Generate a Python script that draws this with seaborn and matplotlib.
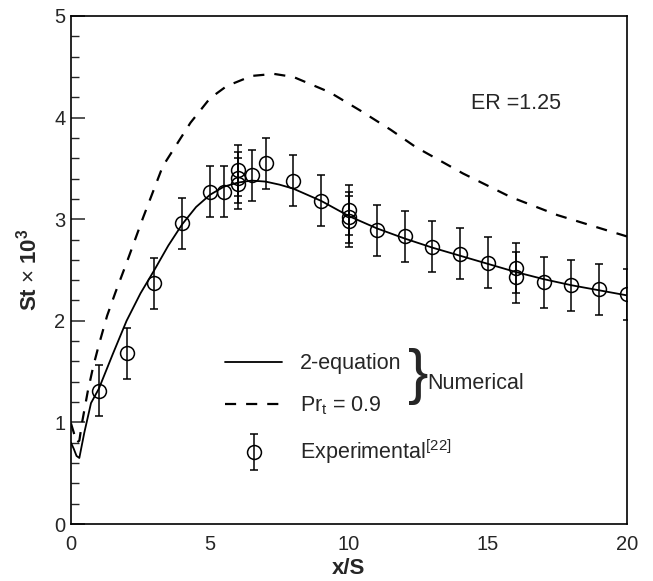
import matplotlib
matplotlib.use('Agg')
import matplotlib.pyplot as plt
import pandas as pd
import seaborn as sns
from matplotlib.lines import Line2D
from matplotlib.container import ErrorbarContainer
from matplotlib.legend_handler import HandlerErrorbar
from matplotlib.ticker import MultipleLocator

# numerical results, 2-equation model
x_2eq = [0, 0.1, 0.2, 0.3, 0.48, 0.72, 1.0, 1.5, 2.0, 2.5, 3.0, 3.5, 4.0, 4.5, 5.0, 5.5, 6.0,
         6.5, 7.0, 7.5, 8.0, 9.0, 10.0, 11.0, 12.0, 13.0, 14.0, 15.0, 16.0, 17.0, 18.0, 19.0, 20.0]
st_2eq = [0.80, 0.74, 0.67, 0.65, 0.90, 1.19, 1.33, 1.67, 2.00, 2.27, 2.50, 2.74, 2.95, 3.12, 3.24,
          3.32, 3.36, 3.38, 3.37, 3.34, 3.30, 3.18, 3.03, 2.91, 2.81, 2.72, 2.64, 2.56, 2.48, 2.41,
          2.35, 2.30, 2.25]

# numerical results, constant Pr_t = 0.9
x_prt = [0, 0.1, 0.2, 0.3, 0.4, 0.6, 0.8, 1.0, 1.3, 1.6, 2.0, 2.6, 3.3, 4.3, 5.0, 5.6, 6.5, 7.3,
         8.0, 9.3, 10.4, 11.5, 12.4, 14.1, 15.8, 17.5, 19.4, 20.0]
st_prt = [0.99, 0.90, 0.80, 0.82, 1.00, 1.30, 1.55, 1.76, 2.05, 2.28, 2.57, 3.02, 3.52, 3.95, 4.19,
          4.31, 4.41, 4.43, 4.40, 4.25, 4.07, 3.88, 3.71, 3.45, 3.22, 3.04, 2.88, 2.83]

# experimental data [22]
x_exp = [1, 2, 3, 4, 5, 5.5, 6, 6, 6, 6.5, 7, 8, 9, 10, 10, 10, 11, 12, 13, 14, 15, 16, 16, 17,
         18, 19, 20]
st_exp = [1.31, 1.68, 2.37, 2.96, 3.27, 3.27, 3.35, 3.41, 3.48, 3.43, 3.55, 3.38, 3.18, 2.98, 3.02,
          3.09, 2.89, 2.83, 2.73, 2.66, 2.57, 2.43, 2.52, 2.38, 2.35, 2.31, 2.26]
err_exp = [0.25] * len(x_exp)

sns.set_theme(style='white')
plt.rcParams['font.family'] = ['Liberation Sans', 'DejaVu Sans']
plt.rcParams['mathtext.fontset'] = 'custom'
plt.rcParams['mathtext.rm'] = 'Liberation Sans'
plt.rcParams['mathtext.it'] = 'Liberation Sans:italic'
plt.rcParams['mathtext.bf'] = 'Liberation Sans:bold'

fs = 15.5

fig = plt.figure(figsize=(6.53, 5.81), dpi=100)
ax = fig.add_axes([0.1087, 0.0981, 0.8515, 0.8744])

df_2eq = pd.DataFrame({'x': x_2eq, 'St': st_2eq})
df_prt = pd.DataFrame({'x': x_prt, 'St': st_prt})
sns.lineplot(data=df_2eq, x='x', y='St', ax=ax, color='black', lw=1.3, sort=False)
sns.lineplot(data=df_prt, x='x', y='St', ax=ax, color='black', lw=1.6, sort=False,
             linestyle=(0, (5, 4.5)))
eb = ax.errorbar(x_exp, st_exp, yerr=err_exp, fmt='o', ms=10, mfc='none', mec='black', mew=1.1,
                 ecolor='black', elinewidth=1.1, capsize=3, capthick=1.1)

ax.set_xlim(0, 20)
ax.set_ylim(0, 5)
ax.xaxis.set_major_locator(MultipleLocator(5))
ax.yaxis.set_major_locator(MultipleLocator(1))
ax.yaxis.set_minor_locator(MultipleLocator(0.2))
ax.tick_params(axis='y', which='major', direction='in', length=10, width=1.1, labelsize=14.5,
               pad=4, left=True, right=False)
ax.tick_params(axis='y', which='minor', direction='in', length=6, width=1.0, left=True)
ax.tick_params(axis='x', which='both', length=0, labelsize=14.5, pad=8)
for sp in ax.spines.values():
    sp.set_color('black')
    sp.set_linewidth(1.2)

ax.set_xlabel('x/S', fontsize=16, fontweight='bold', labelpad=3)
ax.set_ylabel(r'St $\times$ 10$^\mathbf{3}$', fontsize=16, fontweight='bold', labelpad=9)

handles = [Line2D([], [], color='black', lw=1.3),
           Line2D([], [], color='black', lw=1.6, linestyle=(0, (5, 4.5))),
           eb]
labels = ['2-equation', r'Pr$_\mathrm{t}$ = 0.9', r'Experimental$^{[22]}$']
ax.legend(handles, labels, loc='upper left', bbox_to_anchor=(0.277, 0.336), frameon=False,
          fontsize=fs, handlelength=2.65, handletextpad=0.85, labelspacing=0.95,
          borderaxespad=0, borderpad=0,
          handler_map={ErrorbarContainer: HandlerErrorbar(yerr_size=0.85)})

ax.text(0.624, 0.29, '}', transform=ax.transAxes, fontsize=44, ha='center', va='center',
        fontweight='light')
ax.text(0.641, 0.276, 'Numerical', transform=ax.transAxes, fontsize=fs, ha='left', va='center')
ax.text(0.72, 0.828, 'ER =1.25', transform=ax.transAxes, fontsize=fs, ha='left', va='center')

plt.savefig('out.png', dpi=100)
